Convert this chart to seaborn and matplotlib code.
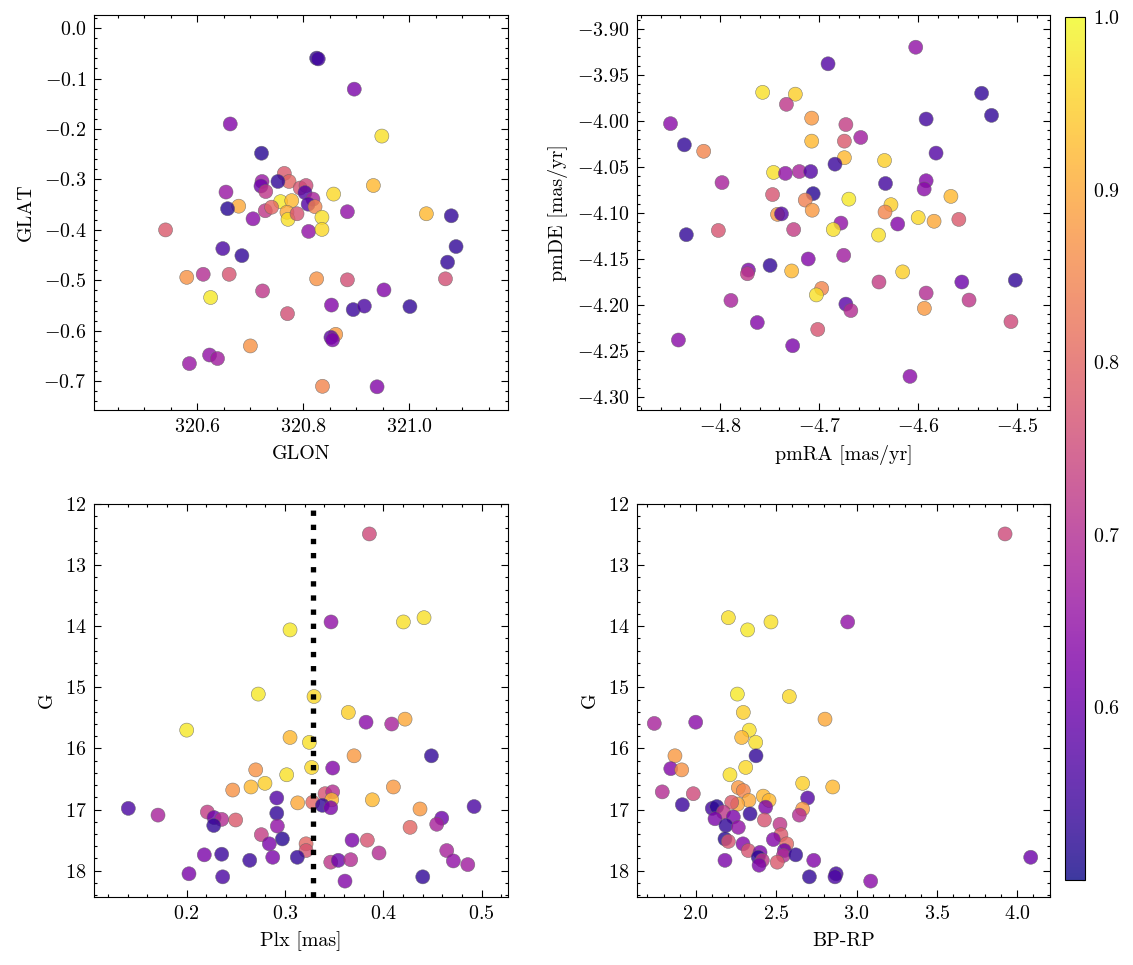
import numpy as np
import pandas as pd
import matplotlib
matplotlib.use("Agg")
import matplotlib.pyplot as plt
from matplotlib.colors import ListedColormap, Normalize
from matplotlib.ticker import MultipleLocator
import seaborn as sns

# ---------------- data ----------------
glon = [320.825, 320.828, 320.896, 320.662, 320.948, 320.721, 320.932, 320.857, 320.654, 320.764,
        320.773, 320.722, 320.720, 320.729, 320.752, 320.794, 320.805, 320.803, 320.818, 320.809,
        320.757, 320.778, 320.678, 320.657, 320.883, 321.032, 321.079, 320.705, 320.728, 320.740,
        320.769, 320.771, 320.788, 320.822, 320.835, 320.810, 320.835, 320.540, 320.648, 320.684,
        321.088, 321.072, 320.580, 320.611, 320.660, 320.625, 320.723, 320.825, 320.883, 320.952,
        321.068, 320.853, 320.894, 320.915, 321.001, 320.770, 320.861, 320.852, 320.855, 320.700,
        320.623, 320.638, 320.585, 320.836, 320.939]
glat = [-0.0595, -0.061, -0.121, -0.190, -0.214, -0.248, -0.312, -0.329, -0.325, -0.288,
        -0.304, -0.304, -0.313, -0.324, -0.304, -0.317, -0.312, -0.326, -0.339, -0.349,
        -0.344, -0.342, -0.353, -0.358, -0.364, -0.368, -0.372, -0.378, -0.362, -0.355,
        -0.365, -0.379, -0.368, -0.354, -0.375, -0.403, -0.399, -0.400, -0.437, -0.451,
        -0.433, -0.464, -0.494, -0.488, -0.488, -0.534, -0.521, -0.497, -0.499, -0.519,
        -0.497, -0.549, -0.558, -0.551, -0.552, -0.566, -0.607, -0.613, -0.618, -0.630,
        -0.648, -0.655, -0.665, -0.710, -0.711]
prob_pos = [0.53, 0.55, 0.62, 0.63, 0.97, 0.52, 0.92, 0.96, 0.66, 0.78,
            0.80, 0.66, 0.60, 0.72, 0.53, 0.77, 0.75, 0.57, 0.68, 0.57,
            0.98, 0.92, 0.90, 0.52, 0.65, 0.92, 0.53, 0.64, 0.72, 0.80,
            0.90, 0.97, 0.77, 0.85, 0.97, 0.65, 0.96, 0.78, 0.56, 0.53,
            0.53, 0.53, 0.87, 0.70, 0.77, 0.98, 0.72, 0.87, 0.76, 0.63,
            0.76, 0.63, 0.54, 0.56, 0.53, 0.76, 0.88, 0.58, 0.62, 0.87,
            0.65, 0.67, 0.66, 0.85, 0.63]

pmra = [-4.6025, -4.691, -4.757, -4.724, -4.733, -4.536, -4.526, -4.7075, -4.592, -4.850,
        -4.673, -4.836, -4.8165, -4.7075, -4.6745, -4.658, -4.582, -4.6745, -4.684, -4.634,
        -4.746, -4.734, -4.720, -4.7085, -4.798, -4.633, -4.592, -4.594, -4.567, -4.747,
        -4.706, -4.714, -4.670, -4.6275, -4.742, -4.738, -4.707, -4.6335, -4.600, -4.584,
        -4.559, -4.6207, -4.678, -4.6857, -4.7257, -4.640, -4.834, -4.8017, -4.711, -4.6752,
        -4.7495, -4.7714, -4.7724, -4.7277, -4.6157, -4.6396, -4.556, -4.502, -4.592, -4.5487,
        -4.6974, -4.7028, -4.789, -4.5938, -4.673, -4.668, -4.7624, -4.5064, -4.7014, -4.842,
        -4.7267, -4.6083]
pmde = [-3.920, -3.938, -3.969, -3.971, -3.982, -3.970, -3.994, -3.997, -3.998, -4.003,
        -4.004, -4.026, -4.033, -4.022, -4.022, -4.018, -4.035, -4.040, -4.047, -4.043,
        -4.056, -4.057, -4.055, -4.055, -4.067, -4.068, -4.065, -4.074, -4.082, -4.080,
        -4.079, -4.086, -4.085, -4.091, -4.1015, -4.101, -4.097, -4.099, -4.105, -4.109,
        -4.107, -4.112, -4.111, -4.118, -4.118, -4.124, -4.1236, -4.119, -4.150, -4.146,
        -4.157, -4.162, -4.166, -4.163, -4.164, -4.175, -4.175, -4.173, -4.187, -4.1946,
        -4.182, -4.189, -4.195, -4.2036, -4.199, -4.206, -4.219, -4.218, -4.2265, -4.238,
        -4.2442, -4.2775]
prob_pm = [0.65, 0.57, 0.97, 0.95, 0.72, 0.53, 0.53, 0.88, 0.55, 0.64,
           0.73, 0.53, 0.85, 0.92, 0.78, 0.67, 0.57, 0.92, 0.54, 0.95,
           0.97, 0.65, 0.68, 0.57, 0.68, 0.55, 0.63, 0.64, 0.92, 0.77,
           0.52, 0.84, 0.98, 0.95, 0.88, 0.57, 0.88, 0.85, 0.96, 0.90,
           0.78, 0.63, 0.65, 0.97, 0.73, 0.97, 0.53, 0.77, 0.63, 0.67,
           0.53, 0.62, 0.72, 0.92, 0.95, 0.73, 0.60, 0.53, 0.70, 0.72,
           0.85, 0.97, 0.68, 0.88, 0.58, 0.70, 0.63, 0.75, 0.77, 0.64,
           0.62, 0.64]

plx = [0.3858, 0.3468, 0.4204, 0.4414, 0.3051, 0.2728, 0.3295, 0.3644, 0.3824, 0.4085,
       0.4221, 0.2000, 0.3051, 0.3248, 0.3702, 0.4489, 0.3271, 0.3485, 0.2702, 0.3017,
       0.2796, 0.2654, 0.2468, 0.4102, 0.3407, 0.3485, 0.2916, 0.3888, 0.3129, 0.3282,
       0.3475, 0.3380, 0.3465, 0.1406, 0.4923, 0.4373, 0.2916, 0.1708, 0.2210, 0.2278,
       0.2356, 0.2498, 0.2275, 0.4594, 0.4543, 0.4272, 0.2922, 0.2759, 0.2973, 0.2840,
       0.3682, 0.3837, 0.3214, 0.3214, 0.4645, 0.3956, 0.2179, 0.2356, 0.2641, 0.2875,
       0.3125, 0.3465, 0.3542, 0.3668, 0.4712, 0.4859, 0.2023, 0.2366, 0.4401, 0.3610]
g_plx = [12.49, 13.93, 13.93, 13.86, 14.06, 15.11, 15.15, 15.41, 15.57, 15.60,
         15.52, 15.70, 15.82, 15.90, 16.12, 16.12, 16.31, 16.32, 16.35, 16.43,
         16.57, 16.63, 16.68, 16.63, 16.74, 16.71, 16.81, 16.84, 16.89, 16.88,
         16.84, 16.93, 16.97, 16.98, 16.95, 16.99, 17.06, 17.09, 17.04, 17.13,
         17.16, 17.17, 17.26, 17.14, 17.24, 17.29, 17.27, 17.41, 17.48, 17.56,
         17.50, 17.50, 17.56, 17.67, 17.67, 17.71, 17.74, 17.73, 17.83, 17.78,
         17.78, 17.86, 17.83, 17.82, 17.84, 17.90, 18.05, 18.10, 18.10, 18.17]
prob_plx = [0.75, 0.65, 0.97, 0.97, 0.98, 0.98, 0.96, 0.95, 0.64, 0.68,
            0.90, 0.98, 0.92, 0.97, 0.88, 0.53, 0.96, 0.63, 0.87, 0.97,
            0.95, 0.92, 0.87, 0.88, 0.77, 0.70, 0.57, 0.92, 0.90, 0.80,
            0.92, 0.53, 0.62, 0.56, 0.56, 0.88, 0.53, 0.68, 0.73, 0.60,
            0.70, 0.78, 0.53, 0.60, 0.68, 0.80, 0.65, 0.73, 0.52, 0.62,
            0.62, 0.77, 0.80, 0.77, 0.68, 0.70, 0.62, 0.54, 0.54, 0.62,
            0.53, 0.72, 0.60, 0.70, 0.65, 0.67, 0.62, 0.56, 0.53, 0.63]
plx_mean = 0.328

bprp = [3.9236, 2.945, 2.203, 2.323, 2.468, 2.259, 2.582, 2.804, 1.7425, 2.000,
        2.296, 2.333, 2.286, 2.373, 1.871, 2.375, 1.845, 1.913, 2.311, 2.213,
        2.665, 2.852, 1.792, 1.985, 2.265, 2.296, 2.331, 2.420, 2.456, 2.696,
        2.261, 2.224, 1.917, 2.103, 2.131, 2.435, 2.665, 2.644, 2.338, 2.172,
        2.120, 2.234, 2.427, 2.188, 2.265, 2.524, 2.530, 2.483, 2.182, 2.203,
        2.294, 2.566, 2.327, 2.400, 2.551, 2.545, 2.622, 2.389, 2.414, 2.507,
        2.734, 2.182, 2.394, 4.083, 2.707, 2.873, 2.866, 3.088]
g_col = [12.49, 13.93, 13.86, 14.06, 13.93, 15.11, 15.15, 15.52, 15.59, 15.57,
         15.41, 15.70, 15.82, 15.90, 16.12, 16.12, 16.33, 16.35, 16.31, 16.43,
         16.57, 16.63, 16.71, 16.74, 16.64, 16.69, 16.85, 16.78, 16.85, 16.81,
         16.91, 16.88, 16.92, 16.98, 16.95, 16.96, 16.99, 17.09, 17.07, 17.04,
         17.15, 17.12, 17.17, 17.26, 17.29, 17.24, 17.41, 17.49, 17.48, 17.52,
         17.56, 17.56, 17.67, 17.70, 17.67, 17.75, 17.74, 17.78, 17.83, 17.86,
         17.83, 17.83, 17.91, 17.78, 18.10, 18.05, 18.10, 18.17]
prob_col = [0.75, 0.65, 0.97, 0.98, 0.97, 0.98, 0.96, 0.90, 0.68, 0.64,
            0.95, 0.97, 0.92, 0.97, 0.88, 0.53, 0.63, 0.87, 0.96, 0.97,
            0.95, 0.92, 0.70, 0.75, 0.88, 0.85, 0.90, 0.92, 0.92, 0.57,
            0.90, 0.78, 0.54, 0.55, 0.52, 0.62, 0.88, 0.70, 0.53, 0.72,
            0.62, 0.62, 0.77, 0.53, 0.65, 0.72, 0.78, 0.63, 0.52, 0.77,
            0.63, 0.80, 0.77, 0.62, 0.60, 0.70, 0.53, 0.52, 0.72, 0.78,
            0.63, 0.62, 0.62, 0.60, 0.53, 0.55, 0.56, 0.64]

# ---------------- style ----------------
sns.set_theme(style="ticks")
plt.rcParams.update({
    "font.family": "serif",
    "font.serif": ["cmr10", "DejaVu Serif"],
    "mathtext.fontset": "cm",
    "axes.formatter.use_mathtext": True,
    "font.size": 9,
    "axes.labelsize": 9,
    "xtick.labelsize": 9,
    "ytick.labelsize": 9,
    "text.color": "black",
    "axes.labelcolor": "black",
    "axes.linewidth": 0.5,
    "axes.edgecolor": "black",
    "xtick.direction": "in",
    "ytick.direction": "in",
    "xtick.top": True,
    "ytick.right": True,
    "xtick.major.size": 3,
    "ytick.major.size": 3,
    "xtick.minor.size": 1.5,
    "ytick.minor.size": 1.5,
    "xtick.major.width": 0.5,
    "ytick.major.width": 0.5,
    "xtick.minor.width": 0.5,
    "ytick.minor.width": 0.5,
    "xtick.minor.visible": True,
    "ytick.minor.visible": True,
    "xtick.color": "black",
    "ytick.color": "black",
    "axes.unicode_minus": True,
})

W, H, DPI = 1133, 965, 160
fig = plt.figure(figsize=(W / DPI, H / DPI), dpi=DPI)

def frac(l, t, r, b):
    return [l / W, 1 - b / H, (r - l) / W, (b - t) / H]

ax1 = fig.add_axes(frac(94, 15, 508, 410))
ax2 = fig.add_axes(frac(637, 15, 1050, 410))
ax3 = fig.add_axes(frac(94, 504, 508, 897))
ax4 = fig.add_axes(frac(637, 504, 1050, 897))
cax = fig.add_axes(frac(1065, 17, 1085, 880))

vmin, vmax = 0.5, 1.0
alpha = 0.8
kw = dict(palette="plasma", hue_norm=(vmin, vmax), legend=False, s=40,
          alpha=alpha, edgecolor="0.4", linewidth=0.25)

df1 = pd.DataFrame({"GLON": glon, "GLAT": glat, "p": prob_pos})
df2 = pd.DataFrame({"pmRA": pmra, "pmDE": pmde, "p": prob_pm})
df3 = pd.DataFrame({"Plx": plx, "G": g_plx, "p": prob_plx})
df4 = pd.DataFrame({"BPRP": bprp, "G": g_col, "p": prob_col})

sns.scatterplot(data=df1, x="GLON", y="GLAT", hue="p", ax=ax1, **kw)
sns.scatterplot(data=df2, x="pmRA", y="pmDE", hue="p", ax=ax2, **kw)
sns.scatterplot(data=df3, x="Plx", y="G", hue="p", ax=ax3, **kw)
sns.scatterplot(data=df4, x="BPRP", y="G", hue="p", ax=ax4, **kw)
ax3.axvline(plx_mean, color="black", ls=":", lw=2.4, zorder=5)

ax1.set_xlim(320.405, 321.186)
ax1.set_ylim(-0.757, 0.026)
ax1.xaxis.set_major_locator(MultipleLocator(0.2))
ax1.xaxis.set_minor_locator(MultipleLocator(0.05))
ax1.yaxis.set_major_locator(MultipleLocator(0.1))
ax1.yaxis.set_minor_locator(MultipleLocator(0.02))
ax1.set_xlabel("GLON")
ax1.set_ylabel("GLAT")

ax2.set_xlim(-4.8838, -4.467)
ax2.set_ylim(-4.314, -3.885)
ax2.xaxis.set_major_locator(MultipleLocator(0.1))
ax2.xaxis.set_minor_locator(MultipleLocator(0.02))
ax2.yaxis.set_major_locator(MultipleLocator(0.05))
ax2.yaxis.set_minor_locator(MultipleLocator(0.01))
ax2.set_xlabel("pmRA [mas/yr]")
ax2.set_ylabel("pmDE [mas/yr]")

ax3.set_xlim(0.1057, 0.5268)
ax3.set_ylim(18.43, 12.0)
ax3.xaxis.set_major_locator(MultipleLocator(0.1))
ax3.xaxis.set_minor_locator(MultipleLocator(0.02))
ax3.yaxis.set_major_locator(MultipleLocator(1))
ax3.yaxis.set_minor_locator(MultipleLocator(0.2))
ax3.set_xlabel("Plx [mas]")
ax3.set_ylabel("G")

ax4.set_xlim(1.635, 4.203)
ax4.set_ylim(18.43, 12.0)
ax4.xaxis.set_major_locator(MultipleLocator(0.5))
ax4.xaxis.set_minor_locator(MultipleLocator(0.1))
ax4.yaxis.set_major_locator(MultipleLocator(1))
ax4.yaxis.set_minor_locator(MultipleLocator(0.2))
ax4.set_xlabel("BP-RP")
ax4.set_ylabel("G")

# colorbar with the same transparency as the points
base = plt.get_cmap("plasma")(np.linspace(0, 1, 256))[:, :3]
blend = base * alpha + (1 - alpha)
cmap_a = ListedColormap(blend)
sm = matplotlib.cm.ScalarMappable(norm=Normalize(vmin, vmax), cmap=cmap_a)
cb = fig.colorbar(sm, cax=cax)
cb.set_ticks([0.6, 0.7, 0.8, 0.9, 1.0])
cb.ax.yaxis.set_minor_locator(MultipleLocator(0.02))
cb.ax.tick_params(which="both", direction="in", right=True, left=False)
cb.outline.set_linewidth(0.5)

fig.savefig("out.png", dpi=DPI)
